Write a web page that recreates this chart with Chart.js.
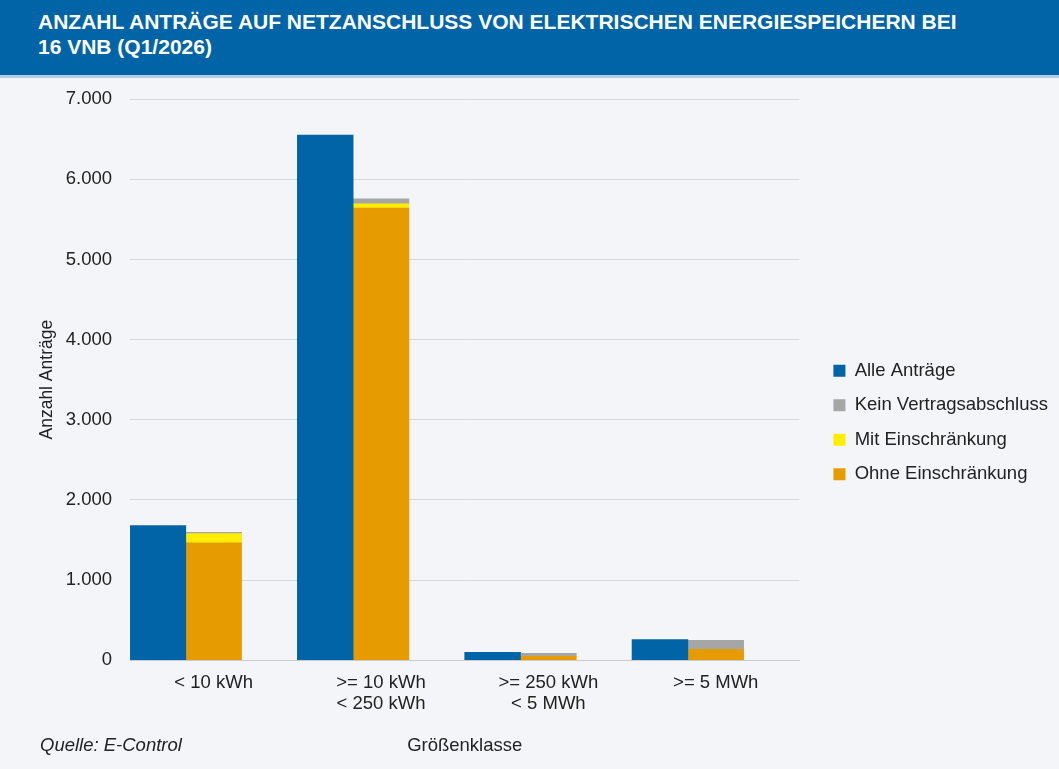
<!DOCTYPE html>
<html lang="de">
<head>
<meta charset="utf-8">
<script src="https://cdn.jsdelivr.net/npm/chart.js@4.4.1/dist/chart.umd.min.js"></script>
<style>
    html, body { margin: 0; padding: 0; }
    body {
        width: 1059px;
        height: 769px;
        background: #f3f5f9;
        font-family: "Liberation Sans", Arial, sans-serif;
        position: relative;
        overflow: hidden;
    }
    .banner {
        position: absolute;
        left: 0; top: 0;
        width: 1059px;
        height: 75px;
        background: #0064a7;
        border-bottom: 3px solid #b4cde6;
    }
    .banner h1 {
        margin: 0;
        position: absolute;
        left: 38px;
        top: 9px;
        color: #fff;
        font-size: 21px;
        line-height: 25px;
        font-weight: bold;
    }
    .chart-box {
        position: absolute;
        left: 0; top: 70px;
        width: 1059px;
        height: 699px;
    }
    .source {
        position: absolute;
        left: 40px;
        top: 734px;
        font-size: 18.5px;
        line-height: 22px;
        font-style: italic;
        color: #222;
    }
</style>
</head>
<body>
<div class="banner">
    <h1>ANZAHL ANTRÄGE AUF NETZANSCHLUSS VON ELEKTRISCHEN ENERGIESPEICHERN BEI<br>16 VNB (Q1/2026)</h1>
</div>
<div class="chart-box"><canvas id="chart"></canvas></div>
<div class="source">Quelle: E-Control</div>

<script>
// --- Données ---
const categories = [
    '< 10 kWh',
    ['>= 10 kWh', '< 250 kWh'],
    ['>= 250 kWh', '< 5 MWh'],
    '>= 5 MWh'
];
const alleAntraege = [1680, 6550, 100, 258];
const keinVertrag = [15, 60, 37, 115];
const mitEinschraenkung = [115, 55, 0, 0];
const ohneEinschraenkung = [1465, 5640, 50, 135];
const yTicks = [0, 1000, 2000, 3000, 4000, 5000, 6000, 7000];
const legendOrder = ['Alle Anträge', 'Kein Vertragsabschluss', 'Mit Einschränkung', 'Ohne Einschränkung'];

const COLORS = {
    blue: '#0064a7',
    grey: '#a6a6a6',
    yellow: '#ffed00',
    orange: '#e69c00'
};

const fontFamily = '"Liberation Sans", Arial, sans-serif';

// Abstand zwischen Diagrammfläche und Legende (links) + leichte Verschiebung nach unten
const LEGEND_GAP = 18;
const LEGEND_DY = 5;
const legendGap = {
    id: 'legendGap',
    beforeLayout(chart) {
        const lg = chart.legend;
        if (!lg || lg._gapPatched) return;
        const fit = lg.fit;
        const draw = lg.draw;
        lg.fit = function () {
            fit.call(this);
            this.width += LEGEND_GAP;
        };
        lg.draw = function () {
            this.left += LEGEND_GAP;
            this.top += LEGEND_DY;
            this.bottom += LEGEND_DY;
            draw.call(this);
            this.left -= LEGEND_GAP;
            this.top -= LEGEND_DY;
            this.bottom -= LEGEND_DY;
        };
        lg._gapPatched = true;
    }
};

const ctx = document.getElementById('chart').getContext('2d');
new Chart(ctx, {
    type: 'bar',
    data: {
        labels: categories,
        datasets: [
            { label: 'Alle Anträge', data: alleAntraege, backgroundColor: COLORS.blue, stack: 'alle' },
            { label: 'Ohne Einschränkung', data: ohneEinschraenkung, backgroundColor: COLORS.orange, stack: 'teil' },
            { label: 'Mit Einschränkung', data: mitEinschraenkung, backgroundColor: COLORS.yellow, stack: 'teil' },
            { label: 'Kein Vertragsabschluss', data: keinVertrag, backgroundColor: COLORS.grey, stack: 'teil' },
            // leerer Stapel, damit die Gruppe wie im Original links sitzt
            { label: '_leer', data: [0, 0, 0, 0], backgroundColor: 'rgba(0,0,0,0)', stack: 'leer' }
        ]
    },
    plugins: [legendGap],
    options: {
        responsive: true,
        maintainAspectRatio: false,
        animation: false,
        layout: { padding: { top: 4, right: 1, left: 37, bottom: 8 } },
        datasets: { bar: { categoryPercentage: 1.0, barPercentage: 1.0, borderWidth: 0 } },
        scales: {
            x: {
                stacked: true,
                grid: { display: false, drawTicks: false },
                border: { color: '#c8cbd0', width: 1 },
                ticks: { color: '#222', font: { family: fontFamily, size: 18.5, lineHeight: 1.15 }, padding: 12, maxRotation: 0 },
                title: { display: true, text: 'Größenklasse', color: '#222', font: { family: fontFamily, size: 18.5 }, padding: { top: 8 } }
            },
            y: {
                stacked: true,
                min: 0,
                max: 7000,
                afterBuildTicks: (axis) => { axis.ticks = yTicks.map(v => ({ value: v })); },
                afterFit: (axis) => { axis.width = 93; },
                grid: { color: '#d5d8dd', drawTicks: false },
                border: { display: false },
                ticks: {
                    color: '#222',
                    padding: 18,
                    font: { family: fontFamily, size: 18.5 },
                    callback: (v) => v.toLocaleString('de-DE')
                },
                title: { display: true, text: 'Anzahl Anträge', color: '#222', font: { family: fontFamily, size: 17.5 }, padding: { top: 0, bottom: 0 } }
            }
        },
        plugins: {
            legend: {
                position: 'right',
                labels: {
                    boxWidth: 12,
                    boxHeight: 12,
                    padding: 16,
                    color: '#222',
                    font: { family: fontFamily, size: 18.5 },
                    filter: (item) => item.text !== '_leer',
                    sort: (a, b) => legendOrder.indexOf(a.text) - legendOrder.indexOf(b.text)
                }
            },
            tooltip: { enabled: false }
        }
    }
});
</script>
</body>
</html>
